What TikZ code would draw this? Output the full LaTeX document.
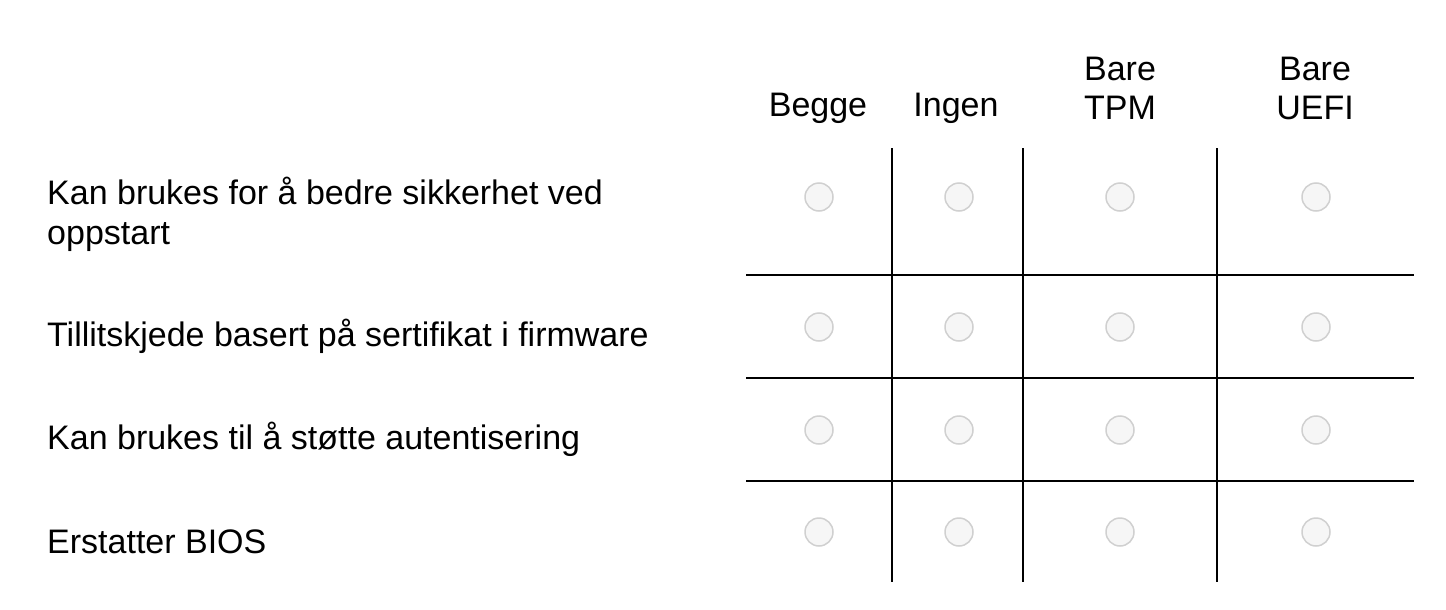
\documentclass[tikz,border=0pt]{standalone}
\usepackage{fontspec}
\setmainfont{Liberation Sans}
\begin{document}
\begin{tikzpicture}[x=1pt,y=-1pt,
  lbl/.style={anchor=west,align=left,inner sep=0pt,font=\fontsize{34}{40}\selectfont},
  hdr/.style={align=center,inner sep=0pt,font=\fontsize{34}{39}\selectfont},
  grid/.style={line width=2pt,black},
  radio/.style={circle,minimum size=28pt,inner sep=0pt,draw={rgb,255:red,208;green,208;blue,208},line width=1.5pt,fill={rgb,255:red,246;green,246;blue,246}}]
\useasboundingbox (0,0) rectangle (1446,610);
\node[hdr] (h1) at (818,108) {Begge};
\node[hdr] (h2) at (956,108) {Ingen};
\node[hdr] (h3) at (1120,88) {Bare\\TPM};
\node[hdr] (h4) at (1315,88) {Bare\\UEFI};
\node[lbl] (r1) at (47,214) {Kan brukes for å bedre sikkerhet ved\\oppstart};
\node[lbl] (r2) at (47,336) {Tillitskjede basert på sertifikat i firmware};
\node[lbl] (r3) at (47,439) {Kan brukes til å støtte autentisering};
\node[lbl] (r4) at (47,542) {Erstatter BIOS};
\foreach \x in {892,1023,1217} \draw[grid] (\x,148) -- (\x,582);
\foreach \y in {275,378,481} \draw[grid] (746,\y) -- (1414,\y);
\foreach \y [count=\i] in {197,327,430,532}
  \foreach \x [count=\j] in {819,959,1120,1316}
    \node[radio] (c\i\j) at (\x,\y) {};
\end{tikzpicture}
\end{document}
